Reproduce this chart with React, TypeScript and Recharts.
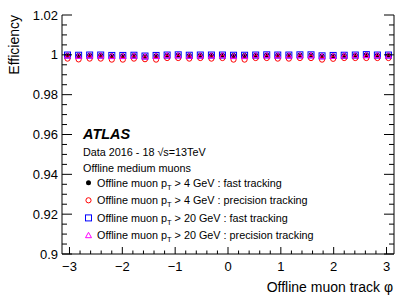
import React from 'react';
import { ComposedChart, Scatter, XAxis, YAxis } from 'recharts';

const phiBins = [
  -3.037, -2.827, -2.618, -2.409, -2.199, -1.99, -1.78, -1.571, -1.361, -1.152,
  -0.942, -0.733, -0.524, -0.314, -0.105, 0.105, 0.314, 0.524, 0.733, 0.942,
  1.152, 1.361, 1.571, 1.78, 1.99, 2.199, 2.409, 2.618, 2.827, 3.037,
];

const effFast4 = [
  0.9998, 0.9997, 0.9998, 0.9998, 0.9996, 0.9996, 0.9997, 0.9993, 0.9996, 0.9998,
  0.9999, 0.9997, 0.9998, 0.9998, 0.9998, 0.9997, 0.9997, 0.9998, 0.9999, 0.9998,
  0.9998, 0.9999, 0.9999, 0.9994, 0.9996, 0.9997, 0.9998, 1.0, 0.9998, 0.9998,
];
const effPrec4 = [
  0.9981, 0.9977, 0.9981, 0.9981, 0.9976, 0.9976, 0.9981, 0.9978, 0.9976, 0.9984,
  0.9984, 0.9981, 0.9984, 0.9981, 0.9984, 0.9976, 0.9976, 0.9984, 0.9984, 0.9981,
  0.9981, 0.9984, 0.9984, 0.9976, 0.998, 0.9984, 0.9984, 0.9984, 0.9984, 0.9984,
];
const effFast20 = [
  0.9999, 0.9998, 0.9999, 0.9999, 0.9997, 0.9997, 0.9998, 0.9994, 0.9997, 0.9999,
  1.0, 0.9998, 0.9999, 0.9999, 0.9999, 0.9998, 0.9998, 0.9999, 1.0, 0.9999,
  0.9999, 1.0, 1.0, 0.9995, 0.9997, 0.9998, 0.9999, 1.0001, 0.9999, 0.9999,
];
const effPrec20 = [
  0.9995, 0.9993, 0.9995, 0.9995, 0.9992, 0.9992, 0.9994, 0.999, 0.9992, 0.9996,
  0.9996, 0.9994, 0.9995, 0.9995, 0.9996, 0.9992, 0.9992, 0.9996, 0.9996, 0.9995,
  0.9995, 0.9996, 0.9996, 0.9991, 0.9993, 0.9995, 0.9996, 0.9997, 0.9996, 0.9996,
];

const xMajorTicks = [-3, -2, -1, 0, 1, 2, 3];
const xMinorTicks = [
  -2.8, -2.6, -2.4, -2.2, -1.8, -1.6, -1.4, -1.2, -0.8, -0.6, -0.4, -0.2,
  0.2, 0.4, 0.6, 0.8, 1.2, 1.4, 1.6, 1.8, 2.2, 2.4, 2.6, 2.8,
];
const yMajorTicks = [0.9, 0.92, 0.94, 0.96, 0.98, 1.0, 1.02];
const yMinorTicks = [
  0.905, 0.91, 0.915, 0.925, 0.93, 0.935, 0.945, 0.95, 0.955, 0.965, 0.97, 0.975,
  0.985, 0.99, 0.995, 1.005, 1.01, 1.015,
];

const xLabelFmt: Record<string, string> = {
  '-3': '\u22123', '-2': '\u22122', '-1': '\u22121', '0': '0', '1': '1', '2': '2', '3': '3',
};
const yLabelFmt = (v: number) => {
  if (Math.abs(v - 1) < 1e-9) return '1';
  return String(v);
};

const toPts = (ys: number[]) => phiBins.map((phi, i) => ({ phi, eff: ys[i] }));
const dFast4 = toPts(effFast4);
const dPrec4 = toPts(effPrec4);
const dFast20 = toPts(effFast20);
const dPrec20 = toPts(effPrec20);

const FONT = '"Liberation Sans", Arial, Helvetica, sans-serif';
const xAll = [...xMajorTicks, ...xMinorTicks].sort((a, b) => a - b);
const yAll = [...yMajorTicks, ...yMinorTicks].sort((a, b) => a - b);
const isXMajor = (v: number) => xMajorTicks.some((t) => Math.abs(t - v) < 1e-9);
const isYMajor = (v: number) => yMajorTicks.some((t) => Math.abs(t - v) < 1e-9);

const BottomTick = (p: any) => {
  const { x, y, payload } = p;
  const major = isXMajor(payload.value);
  return (
    <g>
      <line x1={x} y1={y} x2={x} y2={y - (major ? 7 : 3.5)} stroke="#000" strokeWidth={1} />
      {major && (
        <text x={x} y={y + 17} textAnchor="middle" fontSize={13} fontFamily={FONT} fill="#000">
          {xLabelFmt[String(payload.value)]}
        </text>
      )}
    </g>
  );
};
const TopTick = (p: any) => {
  const { x, y, payload } = p;
  const major = isXMajor(payload.value);
  return <line x1={x} y1={y} x2={x} y2={y + (major ? 7 : 3.5)} stroke="#000" strokeWidth={1} />;
};
const LeftTick = (p: any) => {
  const { x, y, payload } = p;
  const major = isYMajor(payload.value);
  return (
    <g>
      <line x1={x} y1={y} x2={x + (major ? 10 : 5)} y2={y} stroke="#000" strokeWidth={1} />
      {major && (
        <text x={x - 4} y={y + 4.5} textAnchor="end" fontSize={13} fontFamily={FONT} fill="#000">
          {yLabelFmt(payload.value)}
        </text>
      )}
    </g>
  );
};
const RightTick = (p: any) => {
  const { x, y, payload } = p;
  const major = isYMajor(payload.value);
  return <line x1={x} y1={y} x2={x - (major ? 10 : 5)} y2={y} stroke="#000" strokeWidth={1} />;
};

const Dot = (p: any) => <circle cx={p.cx} cy={p.cy} r={2.5} fill="#000" />;
const OpenCircle = (p: any) => (
  <circle cx={p.cx} cy={p.cy} r={2.6} fill="none" stroke="#ff0000" strokeWidth={1} />
);
const OpenSquare = (p: any) => (
  <rect x={p.cx - 3} y={p.cy - 3} width={6} height={6} fill="none" stroke="#0000ff" strokeWidth={1} />
);
const OpenTriangle = (p: any) => (
  <polygon
    points={`${p.cx},${p.cy - 3.2} ${p.cx - 3},${p.cy + 2.2} ${p.cx + 3},${p.cy + 2.2}`}
    fill="none"
    stroke="#ff00ff"
    strokeWidth={1}
  />
);

const legendRows = [
  { marker: 'dot', pt: '4', trk: 'fast tracking' },
  { marker: 'circle', pt: '4', trk: 'precision tracking' },
  { marker: 'square', pt: '20', trk: 'fast tracking' },
  { marker: 'triangle', pt: '20', trk: 'precision tracking' },
];

const LegendMarker = ({ kind, cx, cy }: { kind: string; cx: number; cy: number }) => {
  if (kind === 'dot') return <Dot cx={cx} cy={cy} />;
  if (kind === 'circle') return <OpenCircle cx={cx} cy={cy} />;
  if (kind === 'square') return <OpenSquare cx={cx} cy={cy} />;
  return <OpenTriangle cx={cx} cy={cy} />;
};

export default function App() {
  return (
    <div style={{ position: 'absolute', left: 0, top: 0, width: 415, height: 298, background: '#fff' }}>
      <ComposedChart width={415} height={298} margin={{ top: 15, right: 0, bottom: 0, left: 0 }}>
        <XAxis
          xAxisId="b"
          dataKey="phi"
          type="number"
          domain={[-Math.PI, Math.PI]}
          allowDataOverflow
          ticks={xAll}
          interval={0}
          height={44}
          tickSize={0}
          tickMargin={0}
          tickLine={false}
          axisLine={{ stroke: '#000', strokeWidth: 1 }}
          tick={(p: any) => <BottomTick {...p} />}
        />
        <XAxis
          xAxisId="t"
          orientation="top"
          dataKey="phi"
          type="number"
          domain={[-Math.PI, Math.PI]}
          allowDataOverflow
          ticks={xAll}
          interval={0}
          height={0}
          tickSize={0}
          tickMargin={0}
          tickLine={false}
          axisLine={{ stroke: '#000', strokeWidth: 1 }}
          tick={(p: any) => <TopTick {...p} />}
        />
        <YAxis
          yAxisId="l"
          dataKey="eff"
          type="number"
          domain={[0.9, 1.02]}
          allowDataOverflow
          ticks={yAll}
          interval={0}
          width={62}
          tickSize={0}
          tickMargin={0}
          tickLine={false}
          axisLine={{ stroke: '#000', strokeWidth: 1 }}
          tick={(p: any) => <LeftTick {...p} />}
        />
        <YAxis
          yAxisId="r"
          orientation="right"
          dataKey="eff"
          type="number"
          domain={[0.9, 1.02]}
          allowDataOverflow
          ticks={yAll}
          interval={0}
          width={21}
          tickSize={0}
          tickMargin={0}
          tickLine={false}
          axisLine={{ stroke: '#000', strokeWidth: 1 }}
          tick={(p: any) => <RightTick {...p} />}
        />
        <Scatter xAxisId="b" yAxisId="l" data={dFast4} dataKey="eff" shape={Dot} isAnimationActive={false} />
        <Scatter xAxisId="b" yAxisId="l" data={dPrec4} dataKey="eff" shape={OpenCircle} isAnimationActive={false} />
        <Scatter xAxisId="b" yAxisId="l" data={dFast20} dataKey="eff" shape={OpenSquare} isAnimationActive={false} />
        <Scatter xAxisId="b" yAxisId="l" data={dPrec20} dataKey="eff" shape={OpenTriangle} isAnimationActive={false} />
      </ComposedChart>
      <svg
        width={415}
        height={298}
        style={{ position: 'absolute', left: 0, top: 0, pointerEvents: 'none' }}
        fontFamily={FONT}
      >
        <text x={0} y={0} transform="translate(19,15) rotate(-90)" textAnchor="end" fontSize={14} fill="#000">
          Efficiency
        </text>
        <text x={393} y={292} textAnchor="end" fontSize={14} fill="#000">
          Offline muon track φ
        </text>
        <text x={83} y={139} fontSize={14.5} fontWeight="bold" fontStyle="italic" fill="#000">
          ATLAS
        </text>
        <text x={83} y={156} fontSize={10.8} fill="#000">
          Data 2016 - 18 √s=13TeV
        </text>
        <text x={83} y={172} fontSize={10.8} fill="#000">
          Offline medium muons
        </text>
        {legendRows.map((r, i) => {
          const y = 186.5 + i * 17.6;
          return (
            <g key={i}>
              <LegendMarker kind={r.marker} cx={88.5} cy={y - 3.8} />
              <text x={97} y={y} fontSize={10.8} fill="#000">
                Offline muon p
                <tspan dy={3} fontSize={7.5}>T</tspan>
                <tspan dy={-3}>{` > ${r.pt} GeV : ${r.trk}`}</tspan>
              </text>
            </g>
          );
        })}
      </svg>
    </div>
  );
}
